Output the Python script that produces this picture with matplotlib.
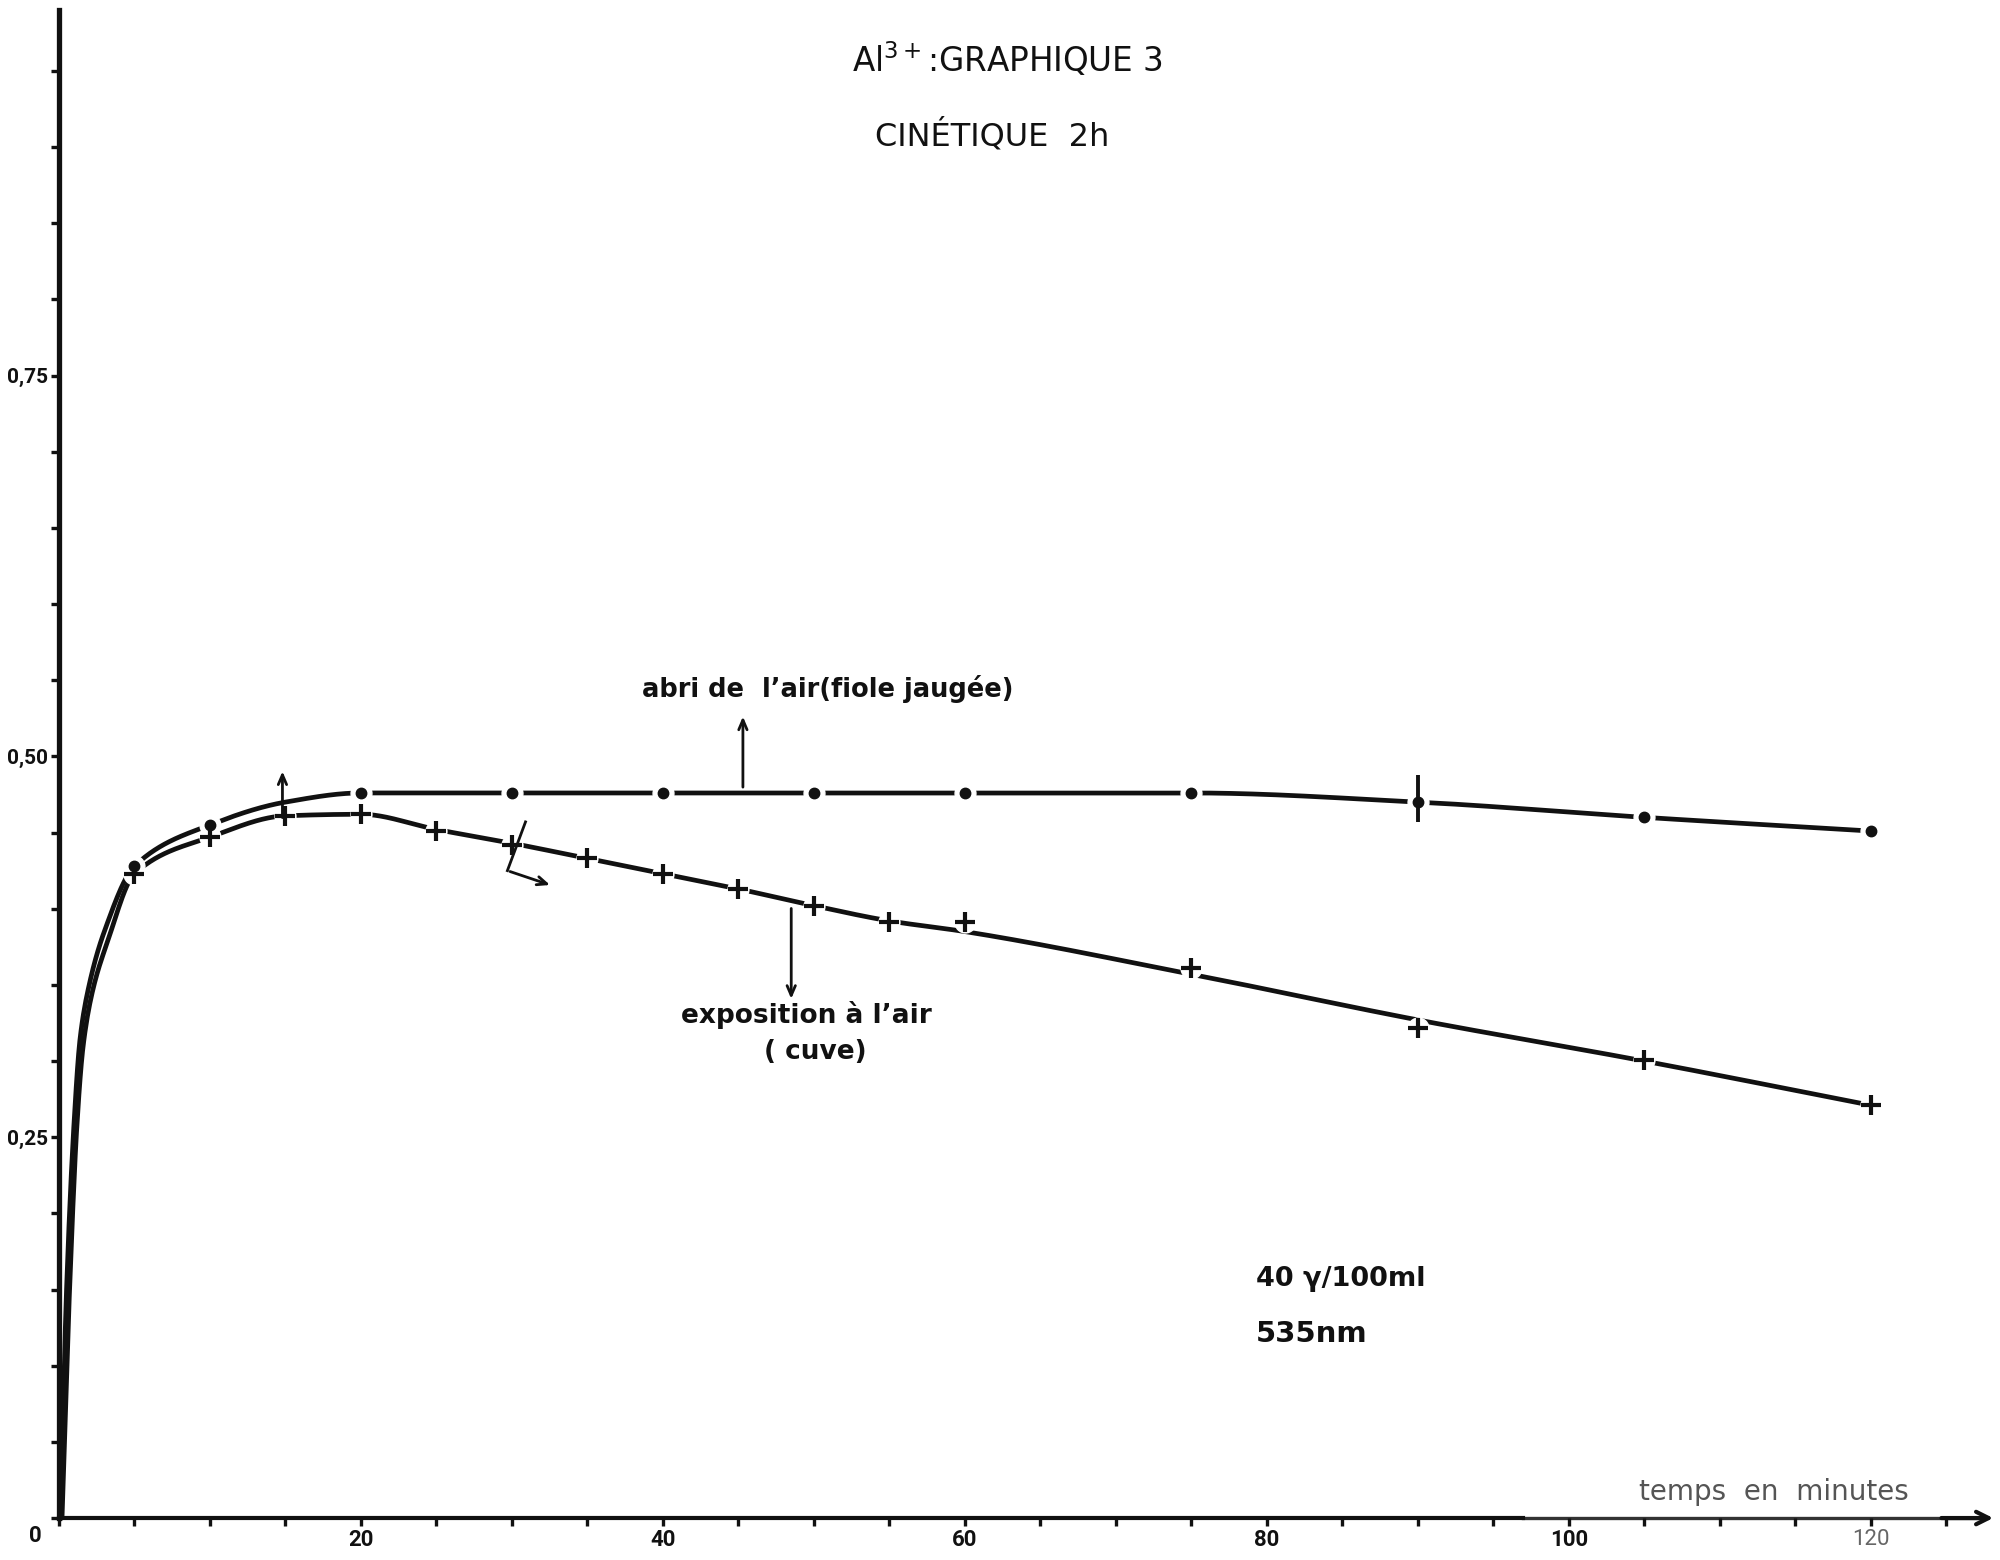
import numpy as np
import matplotlib
matplotlib.use("Agg")
import matplotlib.pyplot as plt
from matplotlib.ticker import MultipleLocator, FixedLocator

# ---- measurements: absorbance vs time (min), 40 γ/100 ml, 535 nm ----
# flask kept away from air (dots)
t_abri = [5, 10, 20, 30, 40, 50, 60, 75, 90, 105, 120]
a_abri = [0.428, 0.455, 0.476, 0.476, 0.476, 0.476, 0.476, 0.476, 0.470, 0.460, 0.451]
# cell exposed to air (crosses)
t_expo = [5, 10, 15, 20, 25, 30, 35, 40, 45, 50, 55, 60, 75, 90, 105, 120]
a_expo = [0.423, 0.447, 0.461, 0.462, 0.451, 0.442, 0.433, 0.423, 0.413,
          0.402, 0.391, 0.391, 0.361, 0.322, 0.301, 0.271]
# spread of the 90 min reading (flask)
err_t = [90]
err_lo = [0.457]
err_hi = [0.488]

# hand-drawn smoothed curves through the readings
curve_abri_t = [0.1, 0.5, 1.0, 1.4, 2.0, 3.0, 5, 10, 15, 20, 30, 40, 50, 60, 75, 90, 105, 120]
curve_abri_a = [0.0, 0.15, 0.26, 0.315, 0.35, 0.385, 0.428, 0.455, 0.470, 0.476,
                0.476, 0.476, 0.476, 0.476, 0.476, 0.470, 0.460, 0.451]
curve_expo_t = [0.2, 0.7, 1.2, 1.6, 2.2, 3.2, 5, 10, 15, 20, 25, 30, 35, 40, 45, 50,
                55, 60, 75, 90, 105, 120]
curve_expo_a = [0.0, 0.15, 0.26, 0.31, 0.345, 0.378, 0.423, 0.447, 0.461, 0.462,
                0.452, 0.443, 0.433, 0.423, 0.413, 0.402, 0.392, 0.385, 0.357,
                0.327, 0.300, 0.271]

x_major = [20, 40, 60, 80, 100, 120]
y_major = [0, 0.25, 0.50, 0.75]
y_labels = ["", "0,25", "0,50", "0,75"]


def pchip(x, y, xs):
    """Monotone cubic (Fritsch–Carlson) curve used to draw a smooth line."""
    x = np.asarray(x, float)
    y = np.asarray(y, float)
    h = np.diff(x)
    d = np.diff(y) / h
    m = np.zeros_like(y)
    m[0], m[-1] = d[0], d[-1]
    for k in range(1, len(x) - 1):
        if d[k - 1] * d[k] <= 0:
            m[k] = 0.0
        else:
            w1 = 2 * h[k] + h[k - 1]
            w2 = h[k] + 2 * h[k - 1]
            m[k] = (w1 + w2) / (w1 / d[k - 1] + w2 / d[k])
    idx = np.clip(np.searchsorted(x, xs) - 1, 0, len(x) - 2)
    hh = h[idx]
    s = (xs - x[idx]) / hh
    h00 = 2 * s**3 - 3 * s**2 + 1
    h10 = s**3 - 2 * s**2 + s
    h01 = -2 * s**3 + 3 * s**2
    h11 = s**3 - s**2
    return h00 * y[idx] + h10 * hh * m[idx] + h01 * y[idx + 1] + h11 * hh * m[idx + 1]


plt.rcParams["font.family"] = ["DejaVu Sans"]
tick_font = ["Roboto", "DejaVu Sans"]

fig = plt.figure(figsize=(20, 15.6), dpi=100)
ax = fig.add_axes([0.0295, 0.0269, 0.9685, 0.9667])
ax.set_xlim(0, 128.3)
ax.set_ylim(0, 0.99)

ink = "#111111"
lw = 3.4

# smoothed curves
for ct, ca in ((curve_abri_t, curve_abri_a), (curve_expo_t, curve_expo_a)):
    xs = np.linspace(ct[0], ct[-1], 1500)
    ax.plot(xs, pchip(ct, ca, xs), color=ink, lw=lw, solid_capstyle="round",
            zorder=2, clip_on=False)

# small breaks in the line around each reading
ax.plot(t_abri, a_abri, "o", ms=15, color="white", zorder=3)
ax.plot(t_expo, a_expo, "o", ms=15, color="white", zorder=3)

# readings
ax.plot(t_abri, a_abri, "o", ms=7.5, color=ink, zorder=4)
ax.plot(t_expo, a_expo, "+", ms=14, mew=3.0, color=ink, zorder=4)
ax.vlines(err_t, err_lo, err_hi, color=ink, lw=2.8, zorder=4)

# axes
for side in ("top", "right"):
    ax.spines[side].set_visible(False)
ax.spines["left"].set_linewidth(3.8)
ax.spines["bottom"].set_linewidth(3.0)
ax.spines["left"].set_color(ink)
ax.spines["bottom"].set_color(ink)
ax.spines["bottom"].set_bounds(0, 97)
# fainter end of the time axis with its arrow
ax.plot([97, 127.5], [0, 0], color="#333333", lw=2.4, clip_on=False, zorder=1)
ax.annotate("", xy=(128.3, 0), xytext=(124.5, 0),
            arrowprops=dict(arrowstyle="->,head_length=0.9,head_width=0.45",
                            lw=3.0, color=ink), annotation_clip=False)

ax.xaxis.set_major_locator(FixedLocator(x_major))
ax.xaxis.set_minor_locator(MultipleLocator(5))
ax.yaxis.set_major_locator(FixedLocator(y_major))
ax.yaxis.set_minor_locator(MultipleLocator(0.05))
ax.set_xticklabels([str(v) for v in x_major])
ax.set_yticklabels(y_labels)
ax.tick_params(which="both", direction="out", length=6, width=2.4, colors=ink)
ax.tick_params(axis="x", labelsize=16, pad=2)
ax.tick_params(axis="y", labelsize=15, pad=2)
for lab in ax.get_xticklabels() + ax.get_yticklabels():
    lab.set_fontweight("bold")
    lab.set_family(tick_font)
ax.get_xticklabels()[-1].set_color("#666666")
ax.get_xticklabels()[-1].set_fontweight("normal")
ax.annotate("0", xy=(0, 0), xytext=(-17, -13), textcoords="offset points",
            ha="center", va="center", fontsize=16, fontweight="bold", color=ink,
            family=tick_font, annotation_clip=False)

# titles
fig.text(0.5035, 0.9615, r"Al$^{3+}$:GRAPHIQUE 3", ha="center", va="center",
         fontsize=23.5, color=ink)
fig.text(0.496, 0.9128, "CINÉTIQUE  2h", ha="center", va="center",
         fontsize=23, color=ink)

# curve labels with pointers
arrow_kw = dict(arrowstyle="->,head_length=0.7,head_width=0.3", lw=2.0, color=ink)
ax.annotate("", xy=(45.3, 0.528), xytext=(45.3, 0.478), arrowprops=arrow_kw)
ax.text(50.9, 0.544, "abri de  l’air(fiole jaugée)", ha="center", va="center",
        fontsize=18.5, fontweight="bold", color=ink)

ax.annotate("", xy=(48.5, 0.339), xytext=(48.5, 0.402), arrowprops=arrow_kw)
ax.text(49.5, 0.330, "exposition à l’air", ha="center", va="center",
        fontsize=19, fontweight="bold", color=ink)
ax.text(50.1, 0.306, "( cuve)", ha="center", va="center",
        fontsize=19, fontweight="bold", color=ink)

ax.annotate("", xy=(14.8, 0.492), xytext=(14.8, 0.458), arrowprops=arrow_kw)
ax.plot([30.9, 29.7], [0.457, 0.425], color=ink, lw=2.0, zorder=3)
ax.annotate("", xy=(32.7, 0.415), xytext=(29.7, 0.425), arrowprops=arrow_kw)

# conditions
fig.text(0.628, 0.180, "40 γ/100ml", ha="left", va="center",
         fontsize=19.5, fontweight="bold", color=ink)
fig.text(0.628, 0.145, "535nm", ha="left", va="center",
         fontsize=21, fontweight="bold", color=ink)

fig.text(0.8195, 0.0436, "temps  en  minutes", ha="left", va="center",
         fontsize=20, color="#555555")

fig.savefig("out.png", dpi=100, facecolor="white")
